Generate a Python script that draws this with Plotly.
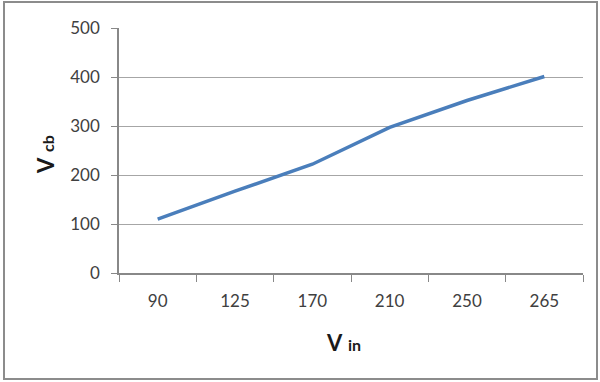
import plotly.graph_objects as go

categories = ["90", "125", "170", "210", "250", "265"]
vcb_values = [110, 167, 222, 297, 352, 401]
y_ticks = [0, 100, 200, 300, 400, 500]

W, H = 600, 382
ML, MR, MT, MB = 119, 17, 28, 109
pw, ph = W - ML - MR, H - MT - MB

def px_x(x):
    return (x - ML) / pw

def px_y(y):
    return (H - MB - y) / ph

font_family = "Lato, 'Open Sans', sans-serif"

fig = go.Figure()
fig.add_trace(go.Scatter(
    x=categories, y=vcb_values, mode="lines",
    line=dict(color="#4A7EBB", width=3.5),
    showlegend=False,
))

fig.update_layout(
    width=W, height=H,
    margin=dict(l=ML, r=MR, t=MT, b=MB, autoexpand=False),
    paper_bgcolor="white", plot_bgcolor="white",
    font=dict(family=font_family, size=17, color="#404040"),
    xaxis=dict(
        type="category", range=[-0.5, 5.5], automargin=False,
        tickson="boundaries", ticks="outside", ticklen=7, tickcolor="#888888",
        showline=True, linecolor="#888888", linewidth=1.5,
        showgrid=False, zeroline=False, ticklabelstandoff=12,
        tickfont=dict(size=17, color="#404040"),
    ),
    yaxis=dict(
        range=[0, 500], tickvals=y_ticks, automargin=False,
        ticks="outside", ticklen=6, tickcolor="#888888",
        showline=True, linecolor="#888888", linewidth=1.5,
        showgrid=True, gridcolor="#A6A6A6", gridwidth=1.2,
        zeroline=False, ticklabelstandoff=8,
        tickfont=dict(size=17, color="#404040"),
    ),
    annotations=[
        dict(text="<b>V</b> <b><span style='font-size:16px'>in</span></b>",
             xref="paper", yref="paper", x=px_x(343), y=px_y(343),
             showarrow=False, font=dict(size=22, color="#1a1a1a"),
             xanchor="center", yanchor="middle"),
        dict(text="<b>V</b> <b><span style='font-size:16px'>cb</span></b>",
             xref="paper", yref="paper", x=px_x(45), y=px_y(155),
             showarrow=False, font=dict(size=22, color="#1a1a1a"),
             textangle=-90, xanchor="center", yanchor="middle"),
    ],
    shapes=[dict(
        type="rect", xref="paper", yref="paper",
        x0=px_x(4), x1=px_x(597), y0=px_y(379), y1=px_y(2),
        line=dict(color="#8C8C8C", width=2), fillcolor="rgba(0,0,0,0)",
        layer="below",
    )],
)

fig.write_html("out.html", config={"displayModeBar": False},
               post_script="document.body.style.margin='0';document.body.style.overflow='hidden';")
